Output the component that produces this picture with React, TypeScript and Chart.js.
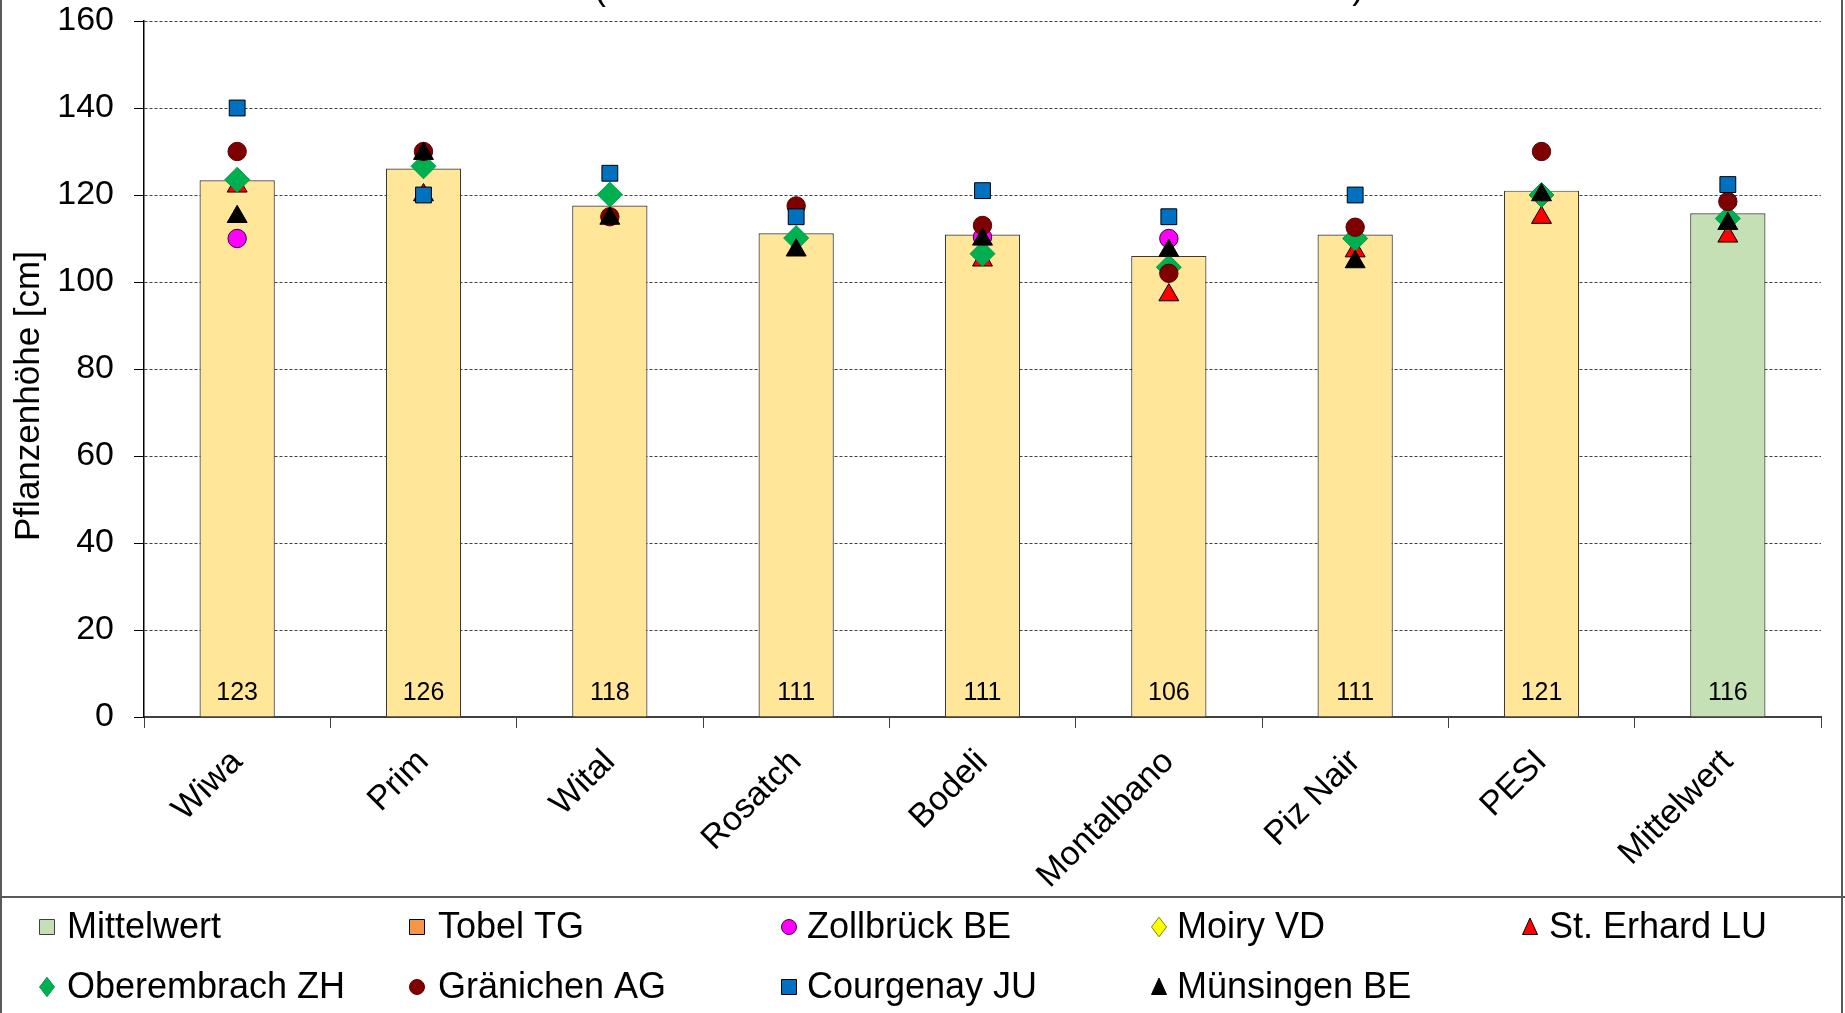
import React, { useEffect, useRef } from 'react';
import { Chart, registerables } from 'chart.js';

Chart.register(...registerables);

const categories = ['Wiwa', 'Prim', 'Wital', 'Rosatch', 'Bodeli', 'Montalbano', 'Piz Nair', 'PESI', 'Mittelwert'];
const yTicks = [0, 20, 40, 60, 80, 100, 120, 140, 160];

const mittelwert = [123.4, 126.1, 117.6, 111.2, 110.9, 106.0, 110.9, 121.0, 115.8];
const tobelTG = [null, null, null, null, null, null, null, null, null];
const zollbrueckBE = [110, null, null, null, 110.3, 110, null, null, null];
const moiryVD = [null, null, null, null, null, null, null, null, null];
const stErhardLU = [122, 120, null, null, 105, 97, 107.1, 114.8, 110.5];
const oberembrachZH = [123.5, 126.6, 120.1, 110.1, 106.5, 103.4, 110, 120, 114.6];
const graenichenAG = [130, 130, 115, 117.5, 113, 102, 112.6, 130, 118.5];
const courgenayJU = [140, 120, 125, 115, 121, 115, 120, null, 122.4];
const muensingenBE = [115, 129.5, 114.6, 107.3, 109.8, 107.2, 104.6, 120, 113.4];

const FONT = "'Liberation Sans', Arial, sans-serif";
const BAR_COLOR = '#FFE699';
const MEAN_BAR_COLOR = '#C5E0B4';

type Series = { label: string; data: (number | null)[]; style: string; fill: string; stroke: string; radius: number };

const series: Series[] = [
  { label: 'Tobel TG', data: tobelTG, style: 'rect', fill: '#F79646', stroke: '#000000', radius: 11.2 },
  { label: 'Zollbrück BE', data: zollbrueckBE, style: 'circle', fill: '#FF00FF', stroke: '#3a003a', radius: 9.2 },
  { label: 'Moiry VD', data: moiryVD, style: 'rectRot', fill: '#FFFF00', stroke: '#808000', radius: 12.5 },
  { label: 'St. Erhard LU', data: stErhardLU, style: 'triangle', fill: '#FF0000', stroke: '#000000', radius: 11.5 },
  { label: 'Oberembrach ZH', data: oberembrachZH, style: 'rectRot', fill: '#00B050', stroke: '#00A04A', radius: 12.5 },
  { label: 'Gränichen AG', data: graenichenAG, style: 'circle', fill: '#7F0000', stroke: '#5a0000', radius: 9.2 },
  { label: 'Courgenay JU', data: courgenayJU, style: 'rect', fill: '#0070C0', stroke: '#000000', radius: 11.2 },
  { label: 'Münsingen BE', data: muensingenBE, style: 'triangle', fill: '#000000', stroke: '#000000', radius: 11.5 },
];

function drawMarker(ctx: CanvasRenderingContext2D, style: string, x: number, y: number, s: number, fill: string, stroke: string) {
  ctx.save();
  ctx.beginPath();
  if (style === 'rect') {
    ctx.rect(x - s / 2, y - s / 2, s, s);
  } else if (style === 'circle') {
    ctx.arc(x, y, s / 2, 0, Math.PI * 2);
  } else if (style === 'rectRot') {
    ctx.moveTo(x, y - s * 0.65);
    ctx.lineTo(x + s / 2, y);
    ctx.lineTo(x, y + s * 0.65);
    ctx.lineTo(x - s / 2, y);
    ctx.closePath();
  } else if (style === 'triangle') {
    ctx.moveTo(x, y - s * 0.6);
    ctx.lineTo(x + s / 2, y + s * 0.5);
    ctx.lineTo(x - s / 2, y + s * 0.5);
    ctx.closePath();
  }
  ctx.fillStyle = fill;
  ctx.fill();
  ctx.lineWidth = 1;
  ctx.strokeStyle = stroke;
  ctx.stroke();
  ctx.restore();
}

const decorPlugin = {
  id: 'decor',
  afterDraw(chart: any) {
    const ctx: CanvasRenderingContext2D = chart.ctx;
    const W = chart.width;
    const H = chart.height;
    const yScale = chart.scales.y;

    // value labels inside bars
    const meta = chart.getDatasetMeta(0);
    ctx.save();
    ctx.font = `25px ${FONT}`;
    ctx.fillStyle = '#000';
    ctx.textAlign = 'center';
    ctx.textBaseline = 'middle';
    const base = yScale.getPixelForValue(0);
    meta.data.forEach((bar: any, i: number) => {
      ctx.fillText(String(Math.round(mittelwert[i])), bar.x, base - 24);
    });
    ctx.restore();

    // y axis title
    ctx.save();
    ctx.font = `35px ${FONT}`;
    ctx.fillStyle = '#000';
    ctx.textAlign = 'center';
    ctx.textBaseline = 'middle';
    ctx.translate(29, 396);
    ctx.rotate(-Math.PI / 2);
    ctx.fillText('Pflanzenhöhe [cm]', 0, 0);
    ctx.restore();

    // clipped title fragments at top
    ctx.save();
    ctx.font = `35px ${FONT}`;
    ctx.fillStyle = '#000';
    ctx.textBaseline = 'alphabetic';
    ctx.textAlign = 'center';
    ctx.fillText('(', 600, 0);
    ctx.fillText(')', 1358, -1);
    ctx.restore();

    // frame lines
    ctx.save();
    ctx.strokeStyle = '#595959';
    ctx.lineWidth = 2;
    ctx.beginPath();
    ctx.moveTo(1, 0);
    ctx.lineTo(1, H);
    ctx.moveTo(W - 3, 0);
    ctx.lineTo(W - 3, H);
    ctx.moveTo(0, 897);
    ctx.lineTo(W, 897);
    ctx.stroke();
    ctx.restore();

    // legend
    const items = [
      { label: 'Mittelwert', style: 'rect', fill: MEAN_BAR_COLOR, stroke: '#404040' },
      ...series.map((s) => ({ label: s.label, style: s.style, fill: s.fill, stroke: s.stroke })),
    ];
    const colMarker = [47, 417, 789, 1159, 1530];
    const colText = [67, 438, 807, 1177, 1549];
    const rows = [927, 987];
    ctx.save();
    ctx.font = `36px ${FONT}`;
    ctx.fillStyle = '#000';
    ctx.textAlign = 'left';
    ctx.textBaseline = 'middle';
    items.forEach((it, i) => {
      const r = Math.floor(i / 5);
      const c = i % 5;
      drawMarker(ctx, it.style, colMarker[c], rows[r], 15, it.fill, it.stroke);
      ctx.fillStyle = '#000';
      ctx.fillText(it.label, colText[c], rows[r] + 1);
    });
    ctx.restore();
  },
};

export default function App() {
  const ref = useRef<HTMLCanvasElement>(null);

  useEffect(() => {
    document.body.style.margin = '0';
    const canvas = ref.current;
    if (!canvas) return;

    const datasets: any[] = [
      {
        type: 'bar',
        label: 'Mittelwert',
        data: mittelwert,
        backgroundColor: categories.map((_, i) => (i === categories.length - 1 ? MEAN_BAR_COLOR : BAR_COLOR)),
        borderColor: '#3a3a3a',
        borderWidth: 1.2,
        categoryPercentage: 1,
        barPercentage: 0.404,
        order: 50,
      },
      ...series.map((s, i) => ({
        type: 'line',
        label: s.label,
        data: s.data,
        showLine: false,
        pointStyle: s.style,
        pointRadius: s.radius,
        pointHoverRadius: s.radius,
        pointBackgroundColor: s.fill,
        pointBorderColor: s.stroke,
        pointBorderWidth: 1,
        backgroundColor: s.fill,
        borderColor: s.stroke,
        order: series.length - i,
      })),
    ];

    const chart = new Chart(canvas, {
      type: 'bar',
      data: { labels: categories, datasets },
      options: {
        responsive: false,
        animation: false,
        events: [],
        layout: { padding: { left: 0, right: 24, top: 21, bottom: 115 } },
        plugins: {
          legend: { display: false },
          tooltip: { enabled: false },
          title: { display: false },
        },
        scales: {
          x: {
            grid: {
              display: true,
              drawOnChartArea: false,
              drawTicks: true,
              tickLength: 11,
              color: '#404040',
              tickColor: '#404040',
              offset: true,
            },
            border: { display: true, color: '#404040', width: 2 },
            ticks: {
              font: { family: FONT, size: 34 },
              color: '#000',
              minRotation: 45,
              maxRotation: 45,
              autoSkip: false,
              padding: 14,
            },
            afterFit: (s: any) => {
              s.height = 181;
            },
          },
          y: {
            min: 0,
            max: 160,
            afterBuildTicks: (s: any) => {
              s.ticks = yTicks.map((v) => ({ value: v }));
            },
            ticks: {
              font: { family: FONT, size: 34 },
              color: '#000',
              padding: 20,
            },
            grid: {
              color: '#404040',
              lineWidth: 1,
              drawTicks: true,
              tickLength: 10,
              tickColor: '#000',
              tickBorderDash: [],
            },
            border: { display: true, color: '#000', width: 1.5, dash: [3, 2] },
            afterFit: (s: any) => {
              s.width = 144;
              s.paddingTop = 0;
              s.paddingBottom = 0;
            },
          },
        },
      },
      plugins: [decorPlugin],
    } as any);

    return () => chart.destroy();
  }, []);

  return (
    <div style={{ position: 'absolute', left: 0, top: 0, width: 1845, height: 1013, background: '#fff' }}>
      <canvas ref={ref} width={1845} height={1013} style={{ display: 'block', width: 1845, height: 1013 }} />
    </div>
  );
}
